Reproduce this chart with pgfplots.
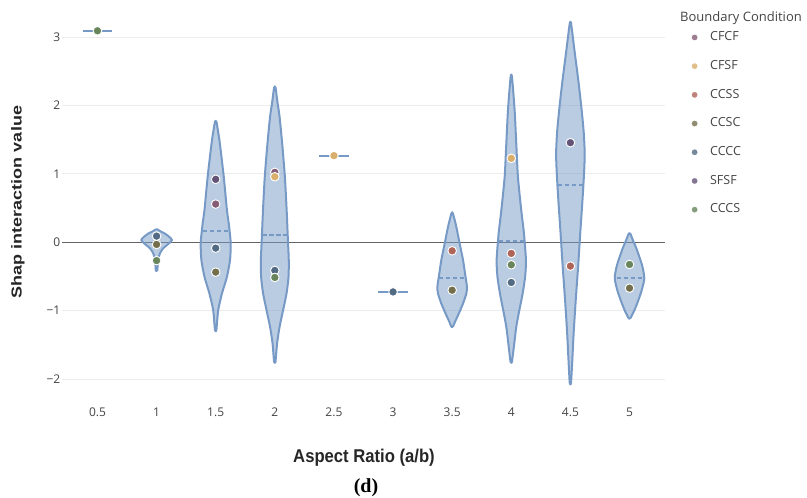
\documentclass[border=0pt]{standalone}
\usepackage{pgfplots}
\pgfplotsset{compat=1.18}
\usepackage{fontspec}
\setmainfont{Open Sans}
\newfontfamily\arialfont{Liberation Sans}
\newfontfamily\timesfont{Liberation Serif}
\definecolor{vline}{RGB}{118,154,197}
\definecolor{tickgray}{RGB}{68,68,68}
\definecolor{gridgray}{RGB}{236,236,236}
\definecolor{zerogray}{RGB}{100,100,100}
\definecolor{cCFCF}{RGB}{133,92,117}
\definecolor{cCFSF}{RGB}{217,175,107}
\definecolor{cCCSS}{RGB}{175,100,88}
\definecolor{cCCSC}{RGB}{115,111,76}
\definecolor{cCCCC}{RGB}{82,106,131}
\definecolor{cSFSF}{RGB}{98,83,119}
\definecolor{cCCCS}{RGB}{104,133,92}
\pgfplotsset{
 violin/.style={draw=vline, fill=vline, fill opacity=0.5, line width=2pt, line join=round, smooth, tension=0.4, forget plot, mark=none},
 median/.style={draw=vline, line width=1.9pt, dash pattern=on 4.5pt off 2.5pt, forget plot, mark=none},
 single/.style={draw=vline, line width=2.2pt, forget plot, mark=none},
 pts/.style={only marks, mark=*, mark size=4.3pt, draw=white, fill=#1, line width=0.9pt},
}
\begin{document}
\begin{tikzpicture}
\path[use as bounding box] (-62pt,-102pt) rectangle (745pt,396pt);
\begin{axis}[
 at={(0pt,0pt)}, anchor=south west,
 scale only axis, width=603pt, height=383pt,
 xmin=0.2, xmax=5.3, ymin=-2.25, ymax=3.35,
 axis line style={draw=none}, major tick length=0pt,
 ymajorgrids, grid style={gridgray, line width=0.8pt},
 xtick={0.5,1,1.5,2,2.5,3,3.5,4,4.5,5},
 xticklabels={0.5,1,1.5,2,2.5,3,3.5,4,4.5,5},
 ytick={-2,-1,0,1,2,3},
 yticklabels={−2,−1,0,1,2,3},
 ticklabel style={font=\fontsize{12}{14}\selectfont, text=tickgray},
 xticklabel style={anchor=north, inner sep=0pt, yshift=-11.5pt},
 yticklabel style={anchor=east, inner sep=0pt, xshift=-1.5pt},
 clip=false,
 legend style={at={(1.043,0.9517)}, anchor=north west, draw=none, fill=none, inner sep=0pt,
   row sep=17.2pt, font=\fontsize{12.5}{15}\selectfont, text=tickgray,
   nodes={inner sep=0pt, text height=9pt, text depth=2.5pt},
   /tikz/every odd column/.append style={column sep=12pt}},
 legend cell align=left,
 legend image code/.code={\draw[#1, draw=none, /tikz/mark size=3.5pt, /tikz/fill opacity=0.8] plot coordinates {(0pt,0pt)};},
]
% zero line
\addplot[zerogray, line width=1.1pt, forget plot] coordinates {(0.2,0) (5.3,0)};
% violins
\addplot[violin] coordinates {(1.006,-0.42) (1.01,-0.33) (1.016,-0.24) (1.028,-0.165) (1.055,-0.092) (1.10,-0.025) (1.13,0.03) (1.105,0.08) (1.07,0.125) (1.03,0.16) (1.006,0.186) (0.994,0.186) (0.97,0.16) (0.93,0.125) (0.895,0.08) (0.87,0.03) (0.90,-0.025) (0.945,-0.092) (0.972,-0.165) (0.984,-0.24) (0.99,-0.33) (0.994,-0.42) (1.006,-0.42)};
\addplot[violin] coordinates {(1.506,-1.29) (1.521,-0.996) (1.553,-0.751) (1.595,-0.508) (1.621,-0.264) (1.627,-0.019) (1.612,0.25) (1.595,0.469) (1.568,0.956) (1.535,1.445) (1.52,1.62) (1.506,1.761) (1.494,1.761) (1.48,1.62) (1.465,1.445) (1.432,0.956) (1.405,0.469) (1.388,0.25) (1.373,-0.019) (1.379,-0.264) (1.405,-0.508) (1.447,-0.751) (1.479,-0.996) (1.494,-1.29) (1.506,-1.29)};
\addplot[violin] coordinates {(2.006,-1.753) (2.019,-1.483) (2.04,-1.24) (2.07,-0.996) (2.099,-0.751) (2.116,-0.508) (2.118,-0.264) (2.112,-0.019) (2.10,0.469) (2.085,0.956) (2.062,1.445) (2.04,1.835) (2.022,2.05) (2.006,2.259) (1.994,2.259) (1.978,2.05) (1.96,1.835) (1.938,1.445) (1.915,0.956) (1.90,0.469) (1.888,-0.019) (1.882,-0.264) (1.884,-0.508) (1.901,-0.751) (1.93,-0.996) (1.96,-1.24) (1.981,-1.483) (1.994,-1.753) (2.006,-1.753)};
\addplot[violin] coordinates {(3.506,-1.24) (3.528,-1.15) (3.556,-1.044) (3.592,-0.897) (3.62,-0.751) (3.625,-0.654) (3.613,-0.508) (3.592,-0.264) (3.563,-0.019) (3.535,0.224) (3.506,0.42) (3.494,0.42) (3.465,0.224) (3.437,-0.019) (3.408,-0.264) (3.387,-0.508) (3.375,-0.654) (3.38,-0.751) (3.408,-0.897) (3.444,-1.044) (3.472,-1.15) (3.494,-1.24) (3.506,-1.24)};
\addplot[violin] coordinates {(4.006,-1.753) (4.025,-1.483) (4.042,-1.24) (4.068,-0.996) (4.096,-0.751) (4.117,-0.508) (4.124,-0.264) (4.107,0.127) (4.084,0.469) (4.056,0.956) (4.042,1.445) (4.028,1.933) (4.006,2.411) (3.994,2.411) (3.972,1.933) (3.958,1.445) (3.944,0.956) (3.916,0.469) (3.893,0.127) (3.876,-0.264) (3.883,-0.508) (3.904,-0.751) (3.932,-0.996) (3.958,-1.24) (3.975,-1.483) (3.994,-1.753) (4.006,-1.753)};
\addplot[violin] coordinates {(4.505,-2.069) (4.514,-1.801) (4.528,-1.313) (4.546,-0.824) (4.566,-0.337) (4.584,0.151) (4.603,0.64) (4.616,1.029) (4.621,1.30) (4.612,1.62) (4.592,1.98) (4.568,2.347) (4.532,2.836) (4.506,3.192) (4.494,3.192) (4.468,2.836) (4.432,2.347) (4.408,1.98) (4.388,1.62) (4.379,1.30) (4.384,1.029) (4.397,0.64) (4.416,0.151) (4.434,-0.337) (4.454,-0.824) (4.472,-1.313) (4.486,-1.801) (4.495,-2.069) (4.505,-2.069)};
\addplot[violin] coordinates {(5.006,-1.117) (5.035,-1.02) (5.059,-0.922) (5.099,-0.728) (5.125,-0.531) (5.106,-0.337) (5.058,-0.092) (5.034,0.005) (5.006,0.127) (4.994,0.127) (4.966,0.005) (4.942,-0.092) (4.894,-0.337) (4.875,-0.531) (4.901,-0.728) (4.941,-0.922) (4.965,-1.02) (4.994,-1.117) (5.006,-1.117)};
% medians
\addplot[median] coordinates {(1.392,0.16) (1.608,0.16)};
\addplot[median] coordinates {(1.894,0.11) (2.106,0.11)};
\addplot[median] coordinates {(3.386,-0.52) (3.614,-0.52)};
\addplot[median] coordinates {(3.894,0.02) (4.106,0.02)};
\addplot[median] coordinates {(4.392,0.84) (4.608,0.84)};
\addplot[median] coordinates {(4.89,-0.52) (5.11,-0.52)};
% single-value categories
\addplot[single] coordinates {(0.375,3.09) (0.625,3.09)};
\addplot[single] coordinates {(2.375,1.264) (2.625,1.264)};
\addplot[single] coordinates {(2.875,-0.728) (3.125,-0.728)};
% points
\addplot[pts=cCFCF] coordinates {(1.5,0.556) (2,1.02)};
\addlegendentry{CFCF}
\addplot[pts=cCFSF] coordinates {(2,0.956) (2.5,1.264) (4,1.225)};
\addlegendentry{CFSF}
\addplot[pts=cCCSS] coordinates {(3.5,-0.127) (4,-0.165) (4.5,-0.351)};
\addlegendentry{CCSS}
\addplot[pts=cCCSC] coordinates {(1,-0.034) (1.5,-0.439) (3.5,-0.703) (5,-0.673)};
\addlegendentry{CCSC}
\addplot[pts=cCCCC] coordinates {(1,0.088) (1.5,-0.088) (2,-0.414) (3,-0.728) (4,-0.59)};
\addlegendentry{CCCC}
\addplot[pts=cSFSF] coordinates {(1.5,0.918) (4.5,1.454)};
\addlegendentry{SFSF}
\addplot[pts=cCCCS] coordinates {(0.5,3.09) (1,-0.27) (2,-0.517) (4,-0.332) (5,-0.327)};
\addlegendentry{CCCS}
\end{axis}
\node[anchor=base west, inner sep=0pt, font=\fontsize{13}{15}\selectfont, text=tickgray] at (618pt,374.3pt) {Boundary Condition};
\node[rotate=90, inner sep=0pt, font=\arialfont\bfseries\fontsize{18}{20}\selectfont, text=black!85] at (-44pt,194pt) {\scalebox{1}[0.8]{Shap interaction value}};
\node[inner sep=0pt, font=\arialfont\bfseries\fontsize{18.5}{20}\selectfont, text=black!85] at (302pt,-62pt) {\scalebox{0.9}[1]{Aspect Ratio (a/b)}};
\node[inner sep=0pt, font=\timesfont\bfseries\fontsize{20}{22}\selectfont, text=black] at (304pt,-92pt) {(d)};
\end{tikzpicture}
\end{document}
